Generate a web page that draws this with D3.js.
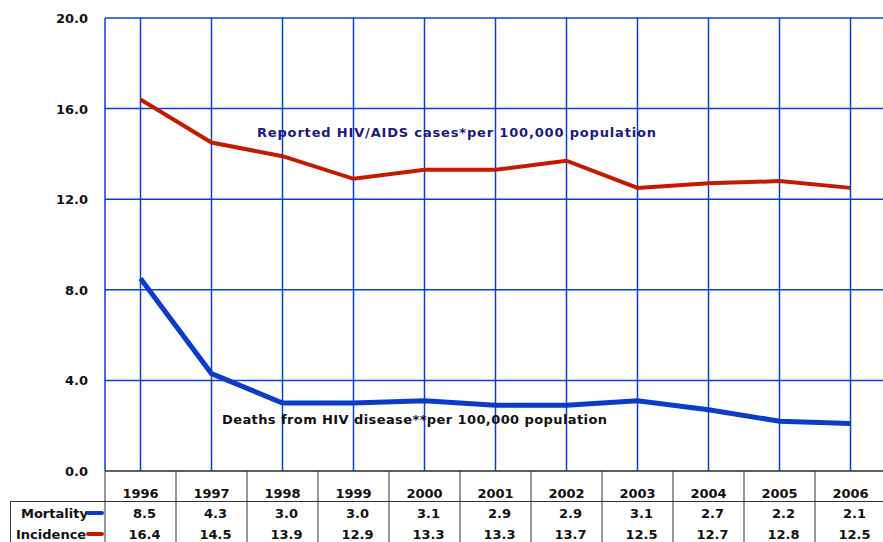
<!DOCTYPE html>
<html lang="en">
<head>
<meta charset="UTF-8">
<title>HIV mortality and incidence</title>
<script src="https://d3js.org/d3.v7.min.js"></script>
<style>
  body { margin: 0; background: #fff; }
  svg text { font-family: "DejaVu Sans", Verdana, sans-serif; font-weight: bold; }
</style>
</head>
<body>
<svg id="chart" width="883" height="542"></svg>
<script>
const years = ['1996', '1997', '1998', '1999', '2000', '2001', '2002', '2003', '2004', '2005', '2006'];
const mortality = [8.5, 4.3, 3.0, 3.0, 3.1, 2.9, 2.9, 3.1, 2.7, 2.2, 2.1];
const incidence = [16.4, 14.5, 13.9, 12.9, 13.3, 13.3, 13.7, 12.5, 12.7, 12.8, 12.5];
const yTicks = [0, 4, 8, 12, 16, 20];

const plotLeft = 105, plotTop = 18, plotBottom = 471, band = 71;
const svg = d3.select('#chart');

const x = d3.scaleBand().domain(years).range([plotLeft, plotLeft + band * years.length]);
const y = d3.scaleLinear().domain([0, 20]).range([plotBottom, plotTop]);
const cx = d => x(d) + x.bandwidth() / 2;

const grid = '#0c3fd6';

// horizontal grid
svg.selectAll('.hg').data(yTicks).enter().append('line')
    .attr('x1', plotLeft).attr('x2', 883)
    .attr('y1', d => y(d)).attr('y2', d => y(d))
    .attr('stroke', d => d === 0 ? '#2a2a2a' : grid).attr('stroke-width', 1.5);

// vertical grid at category centres
svg.selectAll('.vg').data(years).enter().append('line')
    .attr('x1', cx).attr('x2', cx)
    .attr('y1', plotTop).attr('y2', plotBottom)
    .attr('stroke', grid).attr('stroke-width', 1.5);

// left edge of plot
svg.append('line').attr('x1', plotLeft).attr('x2', plotLeft).attr('y1', plotTop).attr('y2', plotBottom)
    .attr('stroke', grid).attr('stroke-width', 1.5);

// y tick labels
svg.selectAll('.yl').data(yTicks).enter().append('text')
    .attr('x', 88).attr('y', d => y(d) + 5)
    .attr('text-anchor', 'end').attr('font-size', 13).attr('fill', '#111')
    .text(d => d.toFixed(1));

// lines
const line = d3.line().x((d, i) => cx(years[i])).y(d => y(d));
svg.append('path').datum(incidence).attr('d', line)
    .attr('fill', 'none').attr('stroke', '#c41a00').attr('stroke-width', 4);
svg.append('path').datum(mortality).attr('d', line)
    .attr('fill', 'none').attr('stroke', '#0a3cc8').attr('stroke-width', 5);

// annotations
svg.append('text').attr('x', 257).attr('y', 137).attr('font-size', 13).attr('fill', '#1a1a80')
    .attr('textLength', 399).attr('lengthAdjust', 'spacing')
    .text('Reported HIV/AIDS cases*per 100,000 population');
svg.append('text').attr('x', 222).attr('y', 424).attr('font-size', 13).attr('fill', '#111')
    .attr('textLength', 385).attr('lengthAdjust', 'spacing')
    .text('Deaths from HIV disease**per 100,000 population');

// data table
const tableLine = '#333';
const edges = years.map(d => x(d)).concat([x(years[years.length - 1]) + band]);
svg.selectAll('.tv').data(edges).enter().append('line')
    .attr('x1', d => d).attr('x2', d => d).attr('y1', plotBottom).attr('y2', 542)
    .attr('stroke', tableLine).attr('stroke-width', 1);
svg.append('line').attr('x1', 10).attr('x2', 883).attr('y1', 501.5).attr('y2', 501.5)
    .attr('stroke', tableLine).attr('stroke-width', 1);
svg.append('line').attr('x1', 10.5).attr('x2', 10.5).attr('y1', 501).attr('y2', 542)
    .attr('stroke', tableLine).attr('stroke-width', 1);

svg.selectAll('.yr').data(years).enter().append('text')
    .attr('x', cx).attr('y', 498).attr('text-anchor', 'middle')
    .attr('font-size', 13).attr('fill', '#111').text(d => d);

const rows = [
  { name: 'Mortality', values: mortality, color: '#0a3cc8', y: 518, x: 21 },
  { name: 'Incidence', values: incidence, color: '#c41a00', y: 539, x: 16 }
];
rows.forEach(r => {
  svg.append('text').attr('x', r.x).attr('y', r.y).attr('font-size', 13).attr('fill', '#111')
      .text(r.name);
  svg.append('line').attr('x1', 88).attr('x2', 102).attr('y1', r.y - 5).attr('y2', r.y - 5)
      .attr('stroke', r.color).attr('stroke-width', 4).attr('stroke-linecap', 'round');
  svg.selectAll(null).data(r.values).enter().append('text')
      .attr('x', (d, i) => cx(years[i]) + 4).attr('y', r.y).attr('text-anchor', 'middle')
      .attr('font-size', 13).attr('fill', '#111').text(d => d.toFixed(1));
});
</script>
</body>
</html>
